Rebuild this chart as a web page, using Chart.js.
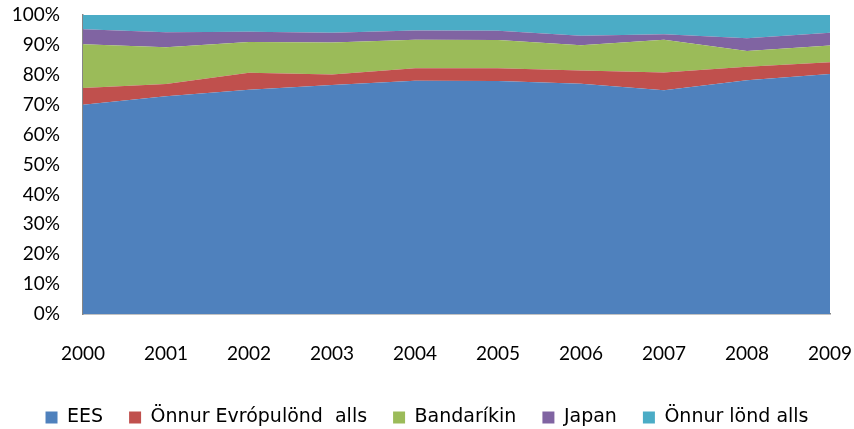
<!DOCTYPE html>
<html>
<head>
<meta charset="utf-8">
<script src="https://cdn.jsdelivr.net/npm/chart.js@4.4.0/dist/chart.umd.min.js"></script>
<style>
	html, body { margin: 0; padding: 0; background: #fff; }
	#wrap { width: 854px; height: 429px; }
</style>
</head>
<body>
<div id="wrap"><canvas id="myChart"></canvas></div>
<script>
const years = ['2000', '2001', '2002', '2003', '2004', '2005', '2006', '2007', '2008', '2009']

// shares in percent
const ees       = [70.0, 72.8, 75.0, 76.6, 78.0, 77.9, 77.0, 74.8, 78.2, 80.3]
const otherEur  = [ 5.6,  4.1,  5.7,  3.5,  4.2,  4.3,  4.4,  6.0,  4.5,  3.9]
const usa       = [14.6, 12.3, 10.3, 10.7,  9.5,  9.4,  8.5, 10.9,  5.3,  5.6]
const japan     = [ 5.0,  5.0,  3.4,  3.3,  3.1,  3.1,  3.2,  1.9,  4.2,  4.3]
const otherLand = [ 4.8,  5.8,  5.6,  5.9,  5.2,  5.3,  6.9,  6.4,  7.8,  5.9]

const yTicks = [0, 10, 20, 30, 40, 50, 60, 70, 80, 90, 100]

const tickFont   = 'Lato, "Open Sans", sans-serif'
const legendFont = '"DejaVu Sans", "Open Sans", sans-serif'
const axisColor  = '#868686'
const textColor  = '#000000'

const area = (label, data, color, fill) => ({
	label: label,
	data: data,
	backgroundColor: color,
	borderColor: color,
	borderWidth: 0,
	pointRadius: 0,
	fill: fill,
	tension: 0
})

const ctx = document.getElementById('myChart').getContext('2d')
const chart = new Chart(ctx, {
	type: 'line',
	data: {
		labels: years,
		datasets: [
			area('EES', ees, '#4F81BD', 'origin'),
			area('Önnur Evrópulönd  alls', otherEur, '#C0504D', '-1'),
			area('Bandaríkin', usa, '#9BBB59', '-1'),
			area('Japan', japan, '#8064A2', '-1'),
			area('Önnur lönd alls', otherLand, '#4BACC6', '-1')
		]
	},
	options: {
		animation: false,
		maintainAspectRatio: false,
		responsive: true,
		layout: {
			padding: { top: 15, right: 0, bottom: -8, left: 0 }
		},
		scales: {
			x: {
				offset: false,
				afterFit: scale => {
					scale.height = 68
					scale.paddingLeft = 0
					scale.paddingRight = 24
				},
				grid: { display: false },
				border: { color: axisColor, width: 1.5 },
				ticks: {
					color: textColor,
					font: { family: tickFont, size: 19 },
					padding: 20,
					maxRotation: 0,
					autoSkip: false
				}
			},
			y: {
				stacked: true,
				min: 0,
				max: 100,
				afterFit: scale => {
					scale.width = 83
					scale.paddingTop = 0
					scale.paddingBottom = 0
				},
				afterBuildTicks: scale => { scale.ticks = yTicks.map(v => ({ value: v })) },
				grid: { display: false },
				border: { color: axisColor, width: 1.5 },
				ticks: {
					color: textColor,
					font: { family: tickFont, size: 19 },
					padding: 15,
					callback: v => v + '%'
				}
			}
		},
		plugins: {
			tooltip: { enabled: false },
			legend: {
				position: 'bottom',
				labels: {
					color: textColor,
					font: { family: legendFont, size: 19 },
					boxWidth: 12,
					boxHeight: 12,
					padding: 26
				}
			}
		}
	}
})
</script>
</body>
</html>
